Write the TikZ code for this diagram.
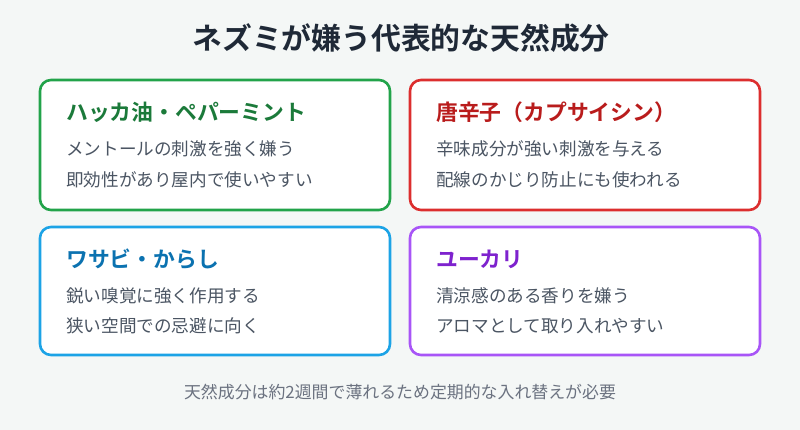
\documentclass[tikz,border=0pt]{standalone}
\usepackage{fontspec}
\setmainfont{Noto Sans CJK JP}
\newfontfamily\jpb{Noto Sans CJK JP Bold}
\definecolor{bg}{HTML}{F4F7F6}
\definecolor{cg}{HTML}{22A34A}\definecolor{tg}{HTML}{1B7A3A}
\definecolor{cr}{HTML}{DC2E2E}\definecolor{tr}{HTML}{B91C1C}
\definecolor{cb}{HTML}{1CA3E6}\definecolor{tb}{HTML}{0B72B0}
\definecolor{cp}{HTML}{A855F7}\definecolor{tp}{HTML}{7E22CE}
\definecolor{body}{HTML}{4B5563}\definecolor{foot}{HTML}{6B7280}
\definecolor{ttl}{HTML}{1F2937}
\tikzset{x=1pt,y=-1pt,
 card/.style={draw=#1,line width=2.6pt,rounded corners=11pt,fill=white},
 head/.style={anchor=west,text=#1,font=\jpb\fontsize{21.8}{24}\selectfont,inner sep=0},
 txt/.style={anchor=west,text=body,font=\fontsize{17.6}{20}\selectfont,inner sep=0}}
\begin{document}
\begin{tikzpicture}
\fill[bg] (0,0) rectangle (800,430);
\useasboundingbox (0,0) rectangle (800,430);
\node[text=ttl,font=\jpb\fontsize{29.8}{32}\selectfont] (title) at (401,38) {ネズミが嫌う代表的な天然成分};
\draw[card=cg] (40,80) rectangle (390,210);
\draw[card=cr] (410,80) rectangle (760,210);
\draw[card=cb] (40,227) rectangle (390,355);
\draw[card=cp] (410,227) rectangle (760,355);
\node[head=tg] (h1) at (66,112) {ハッカ油・ペパーミント};
\node[txt] (a1) at (66,149) {メントールの刺激を強く嫌う};
\node[txt] (a2) at (66,180) {即効性があり屋内で使いやすい};
\node[head=tr] (h2) at (436,112) {唐辛子（カプサイシン）};
\node[txt] (b1) at (436,149) {辛味成分が強い刺激を与える};
\node[txt] (b2) at (436,180) {配線のかじり防止にも使われる};
\node[head=tb] (h3) at (66,259) {ワサビ・からし};
\node[txt] (c1) at (66,296) {鋭い嗅覚に強く作用する};
\node[txt] (c2) at (66,326) {狭い空間での忌避に向く};
\node[head=tp] (h4) at (436,259) {ユーカリ};
\node[txt] (d1) at (436,296) {清涼感のある香りを嫌う};
\node[txt] (d2) at (436,326) {アロマとして取り入れやすい};
\node[text=foot,font=\fontsize{16.9}{19}\selectfont] (ft) at (400,392) {天然成分は約2週間で薄れるため定期的な入れ替えが必要};
\end{tikzpicture}
\end{document}
